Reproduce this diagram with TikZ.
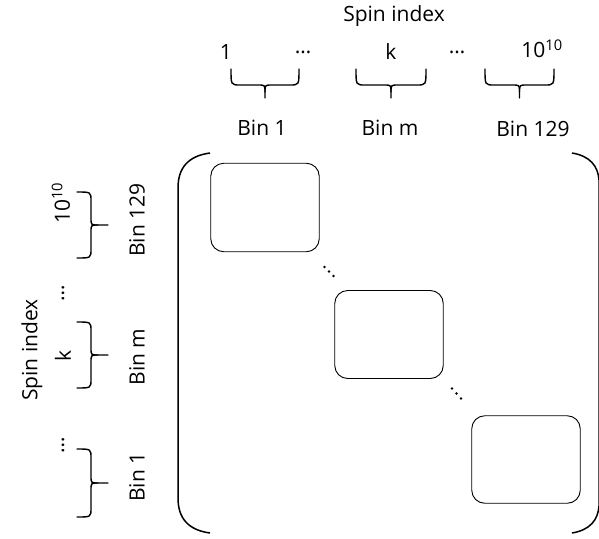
\documentclass[tikz,border=0pt]{standalone}
\usepackage{fontspec}
\setmainfont{Open Sans}
\begin{document}
\begin{tikzpicture}[x=1pt,y=-1pt,
  lbl/.style={font=\fontsize{21}{24}\selectfont, inner sep=0pt},
  blk/.style={draw, line width=0.9pt, rounded corners=13pt},
  brk/.style={draw, line width=1.5pt},
  brc/.style={draw, line width=1.4pt, line cap=round},
  dt/.style={fill, circle, inner sep=0pt, minimum size=2.6pt}]
\useasboundingbox (0,0) rectangle (599,538);

% top labels
\node[lbl] (spinT) at (394,16) {Spin index};
\node[lbl] (t1) at (226,52) {1};
\node[lbl] (td1) at (303,52) {\dots};
\node[lbl] (tk) at (391,52) {k};
\node[lbl] (td2) at (457,52) {\dots};
\node[lbl] (t10) at (542,49) {10\textsuperscript{10}};
\node[lbl] (bT1) at (262,128) {Bin 1};
\node[lbl] (bTm) at (390,128) {Bin m};
\node[lbl] (bT129) at (533,129) {Bin 129};

% top braces
\foreach \a/\b in {231/299, 356/426, 485/554}{
  \pgfmathsetmacro{\m}{(\a+\b)/2}
  \draw[brc] (\a,69) .. controls (\a,85) and (\a,85) .. (\a+9,85) -- (\m-7,85)
     .. controls (\m,85) and (\m,85) .. (\m,92) -- (\m,98);
  \draw[brc] (\b,69) .. controls (\b,85) and (\b,85) .. (\b-9,85) -- (\m+7,85)
     .. controls (\m,85) and (\m,85) .. (\m,92);
}

% left labels
\node[lbl, rotate=90] (spinL) at (32,350) {Spin index};
\node[lbl, rotate=90] (l10) at (61,203) {10\textsuperscript{10}};
\node[lbl, rotate=90] (ld1) at (63,293) {\dots};
\node[lbl, rotate=90] (lk) at (63,356) {k};
\node[lbl, rotate=90] (ld2) at (63,445) {\dots};
\node[lbl, rotate=90] (bL129) at (137,220) {Bin 129};
\node[lbl, rotate=90] (bLm) at (137,357) {Bin m};
\node[lbl, rotate=90] (bL1) at (137,477) {Bin 1};

% left braces
\foreach \a/\b in {192/258, 322/388, 449/517}{
  \pgfmathsetmacro{\m}{(\a+\b)/2}
  \draw[brc] (77,\a) .. controls (91,\a) and (91,\a) .. (91,\a+9) -- (91,\m-7)
     .. controls (91,\m) and (91,\m) .. (98,\m) -- (108,\m);
  \draw[brc] (77,\b) .. controls (91,\b) and (91,\b) .. (91,\b-9) -- (91,\m+7)
     .. controls (91,\m) and (91,\m) .. (98,\m);
}

% matrix brackets
\draw[brk] (210,153) .. controls (188,156) and (178,168) .. (178,188) -- (178,498)
   .. controls (178,518) and (188,530) .. (210,533);
\draw[brk] (572,153) .. controls (590,156) and (598,166) .. (599,180) -- (599,506)
   .. controls (598,520) and (590,530) .. (572,533);

% blocks
\node[blk, minimum width=108.5pt, minimum height=88.5pt] (B1) at (265,207.5) {};
\node[blk, minimum width=108.5pt, minimum height=88pt] (B2) at (389,334.5) {};
\node[blk, minimum width=108.5pt, minimum height=87.5pt] (B3) at (526,459.5) {};

% diagonal dots
\node[dt] (d1a) at (324.5,267) {};
\node[dt] (d1b) at (329,271.5) {};
\node[dt] (d1c) at (333.5,276) {};
\node[dt] (d2a) at (452,388.5) {};
\node[dt] (d2b) at (456.5,393.5) {};
\node[dt] (d2c) at (461,398.5) {};
\end{tikzpicture}
\end{document}
